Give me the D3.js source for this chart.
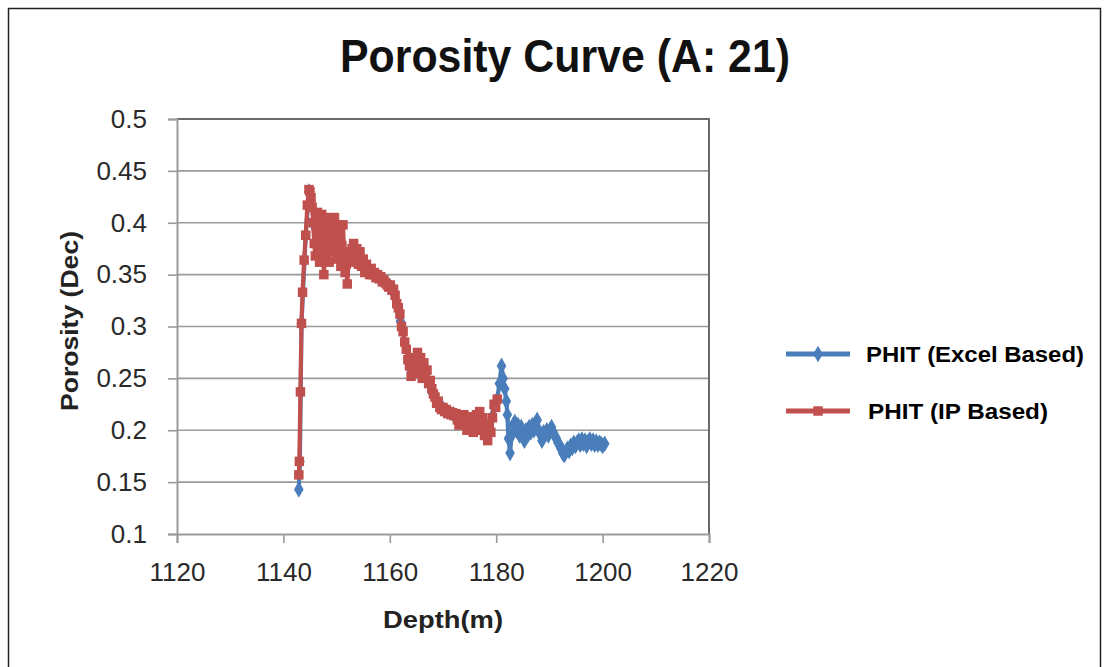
<!DOCTYPE html>
<html>
<head>
<meta charset="utf-8">
<script src="https://cdn.jsdelivr.net/npm/d3@7"></script>
<style>
  html, body { margin: 0; padding: 0; background: #fff; }
  svg { display: block; }
</style>
</head>
<body>
<svg id="chart" width="1109" height="667"></svg>
<script>
// Porosity log, well A-21: total porosity (PHIT) against depth
const xTicks = [1120, 1140, 1160, 1180, 1200, 1220];
const yTicks = [0.1, 0.15, 0.2, 0.25, 0.3, 0.35, 0.4, 0.45, 0.5];
const seriesNames = ["PHIT (Excel Based)", "PHIT (IP Based)"];

// PHIT (Excel Based)
const excelDepth = [
  1142.9, 1143.1, 1143.4, 1144.2, 1144.8, 1146.0, 1148.0, 1150.0, 1152.0, 1154.0,
  1156.0, 1158.0, 1160.0, 1162.0, 1164.0, 1166.0, 1168.0, 1170.0, 1172.0, 1174.0,
  1176.0, 1178.0, 1179.6, 1180.2, 1180.6, 1181.0, 1181.3, 1181.6, 1181.9, 1182.1,
  1182.3, 1182.6, 1182.9, 1183.2, 1183.5, 1183.8, 1184.1, 1184.4, 1184.7, 1185.0,
  1185.3, 1185.6, 1185.9, 1186.2, 1186.5, 1186.8, 1187.1, 1187.4, 1187.7, 1188.0,
  1188.3, 1188.6, 1188.9, 1189.2, 1189.5, 1189.8, 1190.1, 1190.4, 1190.7, 1191.0,
  1191.3, 1191.6, 1191.9, 1192.2, 1192.5, 1192.8, 1193.1, 1193.4, 1193.7, 1194.0,
  1194.3, 1194.6, 1194.9, 1195.2, 1195.5, 1195.8, 1196.1, 1196.4, 1196.7, 1197.0,
  1197.3, 1197.6, 1197.9, 1198.2, 1198.5, 1198.8, 1199.1, 1199.4, 1199.7, 1200.0,
  1200.4
];
const excelPhit = [
  0.143, 0.170, 0.303, 0.388, 0.430, 0.395, 0.385, 0.380, 0.365, 0.368,
  0.355, 0.347, 0.339, 0.305, 0.258, 0.262, 0.236, 0.221, 0.215, 0.210,
  0.208, 0.200, 0.222, 0.230, 0.245, 0.262, 0.250, 0.240, 0.228, 0.215,
  0.192, 0.178, 0.195, 0.205, 0.208, 0.200, 0.205, 0.195, 0.203, 0.198,
  0.190, 0.200, 0.195, 0.203, 0.198, 0.205, 0.200, 0.207, 0.210, 0.200,
  0.196, 0.190, 0.198, 0.196, 0.200, 0.195, 0.200, 0.203, 0.198, 0.195,
  0.192, 0.188, 0.186, 0.182, 0.178, 0.176, 0.180, 0.182, 0.180, 0.185,
  0.183, 0.188, 0.185, 0.188, 0.190, 0.186, 0.191, 0.187, 0.190, 0.185,
  0.189, 0.191, 0.187, 0.190, 0.186, 0.189, 0.186, 0.188, 0.187, 0.185,
  0.187
];

// PHIT (IP Based)
const ipDepth = [
  1142.9, 1143.0, 1143.2, 1143.4, 1143.6, 1143.9, 1144.2, 1144.5, 1144.8, 1145.0,
  1145.2, 1145.4, 1145.6, 1145.8, 1146.0, 1146.2, 1146.4, 1146.6, 1146.8, 1147.0,
  1147.2, 1147.4, 1147.6, 1147.8, 1148.0, 1148.2, 1148.4, 1148.6, 1148.8, 1149.0,
  1149.2, 1149.4, 1149.6, 1149.8, 1150.0, 1150.2, 1150.4, 1150.6, 1150.8, 1151.0,
  1151.2, 1151.4, 1151.6, 1151.8, 1152.0, 1152.3, 1152.6, 1152.9, 1153.2, 1153.5,
  1153.8, 1154.1, 1154.4, 1154.7, 1155.0, 1155.3, 1155.6, 1155.9, 1156.2, 1156.5,
  1156.8, 1157.1, 1157.4, 1157.7, 1158.0, 1158.3, 1158.6, 1158.9, 1159.2, 1159.5,
  1159.8, 1160.1, 1160.4, 1160.7, 1161.0, 1161.3, 1161.6, 1161.9, 1162.2, 1162.5,
  1162.8, 1163.1, 1163.4, 1163.7, 1164.0, 1164.3, 1164.6, 1164.9, 1165.2, 1165.5,
  1165.8, 1166.1, 1166.4, 1166.7, 1167.0, 1167.3, 1167.6, 1167.9, 1168.2, 1168.5,
  1168.8, 1169.1, 1169.4, 1169.7, 1170.0, 1170.3, 1170.6, 1170.9, 1171.2, 1171.5,
  1171.8, 1172.1, 1172.4, 1172.7, 1173.0, 1173.3, 1173.6, 1173.9, 1174.2, 1174.5,
  1174.8, 1175.1, 1175.4, 1175.7, 1176.0, 1176.3, 1176.6, 1176.9, 1177.2, 1177.5,
  1177.8, 1178.1, 1178.4, 1178.7, 1179.0, 1179.3, 1179.6, 1179.9, 1180.2
];
const ipPhit = [
  0.157, 0.170, 0.237, 0.303, 0.333, 0.364, 0.388, 0.417, 0.432, 0.430,
  0.424, 0.415, 0.400, 0.380, 0.368, 0.395, 0.410, 0.372, 0.362, 0.392,
  0.408, 0.385, 0.350, 0.368, 0.395, 0.405, 0.380, 0.362, 0.385, 0.400,
  0.372, 0.390, 0.405, 0.380, 0.365, 0.398, 0.375, 0.390, 0.358, 0.378,
  0.398, 0.372, 0.352, 0.360, 0.341, 0.370, 0.362, 0.375, 0.380, 0.368,
  0.375, 0.360, 0.372, 0.358, 0.365, 0.352, 0.360, 0.355, 0.350, 0.356,
  0.350, 0.352, 0.347, 0.350, 0.346, 0.348, 0.343, 0.345, 0.342, 0.340,
  0.338, 0.340, 0.335, 0.336, 0.330, 0.322, 0.318, 0.312, 0.300, 0.295,
  0.285, 0.278, 0.268, 0.262, 0.252, 0.262, 0.270, 0.255, 0.275, 0.260,
  0.270, 0.250, 0.265, 0.255, 0.258, 0.245, 0.248, 0.240, 0.235, 0.232,
  0.226, 0.228, 0.222, 0.220, 0.222, 0.218, 0.220, 0.216, 0.218, 0.215,
  0.217, 0.214, 0.216, 0.210, 0.205, 0.212, 0.210, 0.215, 0.208, 0.200,
  0.212, 0.205, 0.213, 0.198, 0.210, 0.215, 0.205, 0.218, 0.200, 0.212,
  0.195, 0.205, 0.190, 0.202, 0.198, 0.212, 0.225, 0.222, 0.230
];

const blue = "#4a7ebb";
const red = "#c0504d";

const svg = d3.select("#chart");
const plot = { left: 177, right: 709, top: 119, bottom: 534 };

const x = d3.scaleLinear().domain([1120, 1220]).range([plot.left, plot.right]);
const y = d3.scaleLinear().domain([0.1, 0.5]).range([plot.bottom, plot.top]);

// outer frame
svg.append("rect")
  .attr("x", 8.5).attr("y", 8.5).attr("width", 1092).attr("height", 700)
  .attr("fill", "none").attr("stroke", "#222").attr("stroke-width", 1.5);

// title
svg.append("text")
  .attr("x", 565).attr("y", 72)
  .attr("text-anchor", "middle")
  .attr("font-family", "Liberation Sans, Arial, sans-serif")
  .attr("font-weight", "bold").attr("font-size", 46)
  .attr("textLength", 450).attr("lengthAdjust", "spacingAndGlyphs")
  .attr("fill", "#111")
  .text("Porosity Curve (A: 21)");

// horizontal gridlines
svg.append("g").selectAll("line")
  .data(yTicks.slice(1))
  .join("line")
  .attr("x1", plot.left).attr("x2", plot.right)
  .attr("y1", d => y(d)).attr("y2", d => y(d))
  .attr("stroke", "#9a9a9a").attr("stroke-width", 1.6);

// plot-area border on top and right
svg.append("path")
  .attr("d", `M${plot.left},${plot.top}H${plot.right}V${plot.bottom}`)
  .attr("fill", "none").attr("stroke", "#6a6a6a").attr("stroke-width", 2);

// y axis
const yAxis = d3.axisLeft(y).tickValues(yTicks).tickSize(9).tickPadding(21)
  .tickFormat(d => String(+d.toFixed(2)));
const gy = svg.append("g").attr("transform", `translate(${plot.left},0)`).call(yAxis);
gy.select(".domain").attr("stroke", "#9a9a9a").attr("stroke-width", 2);
gy.selectAll(".tick line").attr("stroke", "#9a9a9a").attr("stroke-width", 1.6);
gy.selectAll(".tick text")
  .attr("font-family", "Liberation Sans, Arial, sans-serif")
  .attr("font-size", 26).attr("fill", "#2a2a2a");

// x axis
const xAxis = d3.axisBottom(x).tickValues(xTicks).tickSize(9).tickPadding(20)
  .tickFormat(d3.format("d"));
const gx = svg.append("g").attr("transform", `translate(0,${plot.bottom})`).call(xAxis);
gx.select(".domain").attr("stroke", "#9a9a9a").attr("stroke-width", 2);
gx.selectAll(".tick line").attr("stroke", "#9a9a9a").attr("stroke-width", 1.6);
gx.selectAll(".tick text")
  .attr("font-family", "Liberation Sans, Arial, sans-serif")
  .attr("font-size", 26).attr("fill", "#2a2a2a");

// axis titles
svg.append("text")
  .attr("x", 443).attr("y", 628)
  .attr("text-anchor", "middle")
  .attr("font-family", "Liberation Sans, Arial, sans-serif")
  .attr("font-weight", "bold").attr("font-size", 23)
  .attr("textLength", 120).attr("lengthAdjust", "spacingAndGlyphs")
  .attr("fill", "#222")
  .text("Depth(m)");

svg.append("text")
  .attr("transform", "translate(78,321) rotate(-90)")
  .attr("text-anchor", "middle")
  .attr("font-family", "Liberation Sans, Arial, sans-serif")
  .attr("font-weight", "bold").attr("font-size", 23)
  .attr("textLength", 180).attr("lengthAdjust", "spacingAndGlyphs")
  .attr("fill", "#222")
  .text("Porosity (Dec)");

// series
const excel = excelDepth.map((d, i) => ({ d, v: excelPhit[i] }));
const ip = ipDepth.map((d, i) => ({ d, v: ipPhit[i] }));
const line = d3.line().x(p => x(p.d)).y(p => y(p.v));

const diamond = d3.symbol().type(d3.symbolDiamond).size(80);
const square = d3.symbol().type(d3.symbolSquare).size(90);

function drawSeries(data, color, sym) {
  const g = svg.append("g");
  g.append("path").datum(data)
    .attr("d", line).attr("fill", "none")
    .attr("stroke", color).attr("stroke-width", 4.2)
    .attr("stroke-linejoin", "round");
  g.selectAll("path.m").data(data).join("path")
    .attr("class", "m")
    .attr("transform", p => `translate(${x(p.d)},${y(p.v)})`)
    .attr("d", sym).attr("fill", color);
}
drawSeries(excel, blue, diamond);
drawSeries(ip, red, square);

// legend
const legend = [
  { name: seriesNames[0], color: blue, sym: diamond, y: 354, w: 218 },
  { name: seriesNames[1], color: red, sym: square, y: 411, w: 180 }
];
const lg = svg.append("g").selectAll("g").data(legend).join("g")
  .attr("transform", l => `translate(0,${l.y})`);
lg.append("line").attr("x1", 786).attr("x2", 850)
  .attr("stroke", l => l.color).attr("stroke-width", 5);
lg.append("path").attr("transform", "translate(818,0)")
  .attr("d", l => l.sym()).attr("fill", l => l.color);
lg.append("text")
  .attr("x", (l, i) => i === 0 ? 866 : 868).attr("y", 8)
  .attr("font-family", "Liberation Sans, Arial, sans-serif")
  .attr("font-weight", "bold").attr("font-size", 22)
  .attr("textLength", l => l.w).attr("lengthAdjust", "spacingAndGlyphs")
  .attr("fill", "#000")
  .text(l => l.name);
</script>
</body>
</html>
